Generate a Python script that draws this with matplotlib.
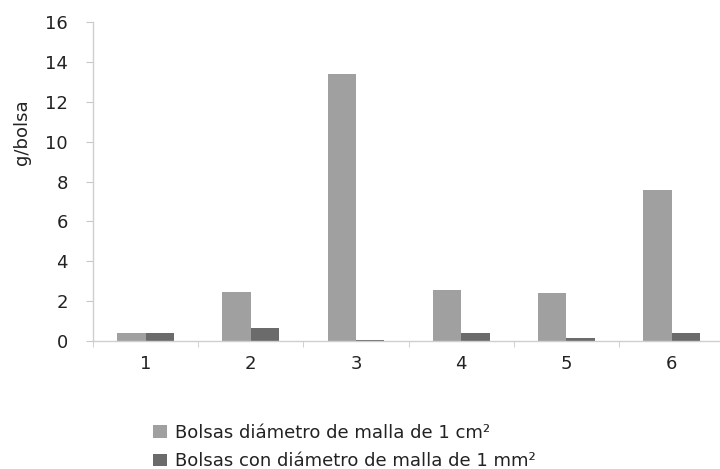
import matplotlib
matplotlib.use("Agg")
import matplotlib.pyplot as plt
import numpy as np

categories = ["1", "2", "3", "4", "5", "6"]
series_cm = [0.38, 2.46, 13.4, 2.56, 2.42, 7.57]
series_mm = [0.38, 0.65, 0.06, 0.40, 0.17, 0.38]
labels = ["Bolsas diámetro de malla de 1 cm²", "Bolsas con diámetro de malla de 1 mm²"]
yticks = [0, 2, 4, 6, 8, 10, 12, 14, 16]

plt.rcParams['font.family'] = ['DejaVu Sans']

fig = plt.figure(figsize=(7.2, 4.69), dpi=100)
ax = fig.add_axes([0.129, 0.273, 0.877, 0.680])

x = np.arange(len(categories))
w = 0.27
b1 = ax.bar(x - w/2, series_cm, w, color="#a0a0a0", label=labels[0])
b2 = ax.bar(x + w/2, series_mm, w, color="#6b6b6b", label=labels[1])

ax.set_xlim(-0.5, len(categories) - 0.5)
ax.set_ylim(0, 16)
ax.set_yticks(yticks)
ax.set_yticklabels([str(v) for v in yticks], fontsize=13, color="#222222")
ax.set_xticks(x)
ax.set_xticklabels(categories, fontsize=13, color="#222222")
ax.set_xticks(np.arange(len(categories) + 1) - 0.5, minor=True)
ax.tick_params(axis='x', which='major', length=0, pad=10)
ax.tick_params(axis='x', which='minor', length=4.5, color="#c8c8c8", direction='out')
ax.tick_params(axis='y', length=5, color="#c8c8c8", direction='out', pad=13)

for s in ['top', 'right']:
    ax.spines[s].set_visible(False)
for s in ['left', 'bottom']:
    ax.spines[s].set_color("#cfcfcf")
    ax.spines[s].set_linewidth(1.0)

fig.text(22 / 720, 1 - 132 / 469, "g/bolsa", rotation=90, fontsize=13,
         color="#222222", ha='center', va='center')

fig.legend(handles=[b1, b2], labels=labels, loc='upper left',
           bbox_to_anchor=(0.2, 0.116), frameon=False,
           fontsize=13, handlelength=0.8, handleheight=0.7,
           handletextpad=0.4, labelspacing=0.6, borderpad=0,
           labelcolor="#222222")

fig.savefig("out.png", dpi=100)
